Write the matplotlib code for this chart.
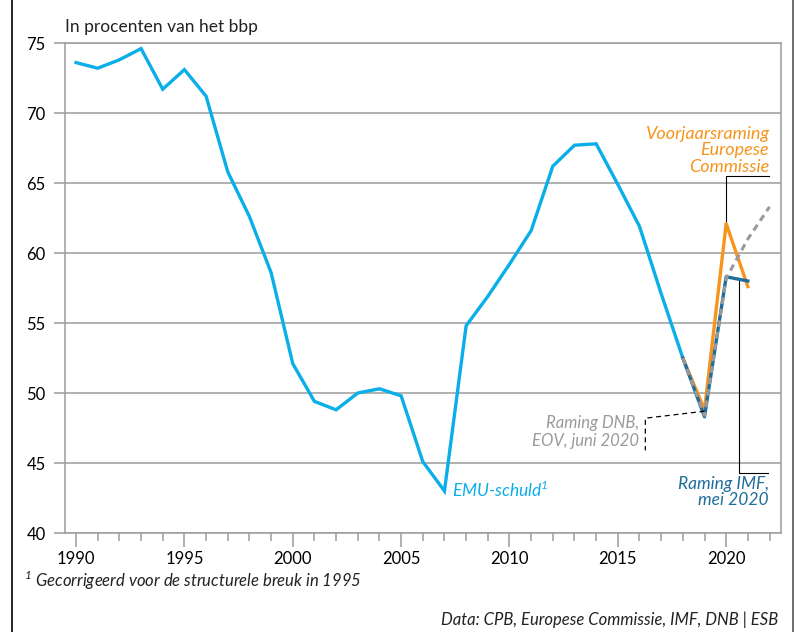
import matplotlib.pyplot as plt
import matplotlib as mpl
from matplotlib.lines import Line2D
import numpy as np

mpl.rc('font', family='Lato', size=12)

# --- data (EMU-schuld, % bbp)
years = list(range(1990, 2019))
emu = [73.6, 73.2, 73.8, 74.6, 71.7, 73.1, 71.2, 65.8, 62.6, 58.6,
       52.1, 49.4, 48.8, 50.0, 50.3, 49.8, 45.1, 43.0, 54.8, 56.9,
       59.2, 61.6, 66.2, 67.7, 67.8, 64.9, 61.9, 57.1, 52.5]

ec_years = [2018, 2019, 2020, 2021]
ec = [52.5, 48.8, 62.1, 57.6]

imf_years = [2018, 2019, 2020, 2021]
imf = [52.5, 48.3, 58.3, 58.0]

dnb_years = [2018, 2019, 2020, 2021, 2022]
dnb = [52.5, 48.4, 58.2, 61.0, 63.3]

c_emu = '#0aaee8'
c_ec = '#f7941d'
c_imf = '#1d6e9c'
c_dnb = '#9a9a9a'
c_grid = '#9b9b9b'

fig = plt.figure(figsize=(7.95, 6.32), dpi=100)
ax = fig.add_axes([65/795, 1-533/632, (781-65)/795, (533-43)/632])

ax.set_xlim(1989.49, 2022.53)
ax.set_ylim(40, 75)
ax.set_yticks(np.arange(40, 76, 5))
ax.yaxis.grid(True, color=c_grid, lw=1.1)
ax.set_axisbelow(True)
for s in ax.spines.values():
    s.set_color(c_grid)
    s.set_linewidth(1.1)
ax.tick_params(axis='y', length=8, color=c_grid, width=1.1, labelsize=12, pad=6)
ax.set_xticks(range(1990, 2021, 5))
ax.set_xticks(range(1990, 2023), minor=True)
ax.tick_params(axis='x', which='major', length=10, color=c_grid, width=1.1, labelsize=12, pad=3)
ax.tick_params(axis='x', which='minor', length=6, color=c_grid, width=1.1)

ax.plot(years, emu, color=c_emu, lw=2.4, solid_joinstyle='miter', zorder=3)
ax.plot(ec_years, ec, color=c_ec, lw=2.4, zorder=4)
ax.plot(imf_years, imf, color=c_imf, lw=2.4, zorder=5)
ax.plot(dnb_years, dnb, color=c_dnb, lw=2.2, ls=(0, (2.2, 1.6)), zorder=6)

# leader lines
ax.plot([2020, 2020, 2021.98], [62.3, 65.5, 65.5], color='black', lw=0.8, zorder=7)
ax.plot([2020.6, 2020.6, 2021.94], [58.0, 44.3, 44.3], color='black', lw=0.8, zorder=7)
ax.plot([2019, 2016.27, 2016.27], [48.7, 48.2, 45.9], color='black', lw=0.9,
        ls=(0, (4, 3)), zorder=7)

ax.text(2021.98, 69.1, 'Voorjaarsraming\nEuropese\nCommissie', color=c_ec,
        style='italic', fontsize=13, ha='right', va='top', linespacing=1.05)
ax.text(2016.0, 48.4, 'Raming DNB,\nEOV, juni 2020', color=c_dnb,
        style='italic', fontsize=12, ha='right', va='top', linespacing=1.1)
ax.text(2021.98, 44.1, 'Raming IMF,\nmei 2020', color=c_imf,
        style='italic', fontsize=12.5, ha='right', va='top', linespacing=1.05)
ax.text(2007.35, 43.1, 'EMU-schuld$^{\\mathregular{1}}$', color=c_emu,
        style='italic', fontsize=12.5, ha='left', va='center')

fig.text(65/795, 1-27/632, 'In procenten van het bbp', fontsize=12.5,
         ha='left', va='center', color='#222222')
fig.text(24/795, 1-580/632, '$^{\\mathregular{1}}$ Gecorrigeerd voor de structurele breuk in 1995',
         fontsize=12, style='italic', ha='left', va='center', color='#222222')
fig.text(778/795, 1-620/632, 'Data: CPB, Europese Commissie, IMF, DNB | ESB',
         fontsize=12, style='italic', ha='right', va='center', color='#222222')

# outer frame
fig.add_artist(Line2D([12/795, 12/795], [0, 1], color='black', lw=1.2))
fig.add_artist(Line2D([793/795, 793/795], [0, 1], color='#555555', lw=1.2))

plt.savefig('out.png', dpi=100)
